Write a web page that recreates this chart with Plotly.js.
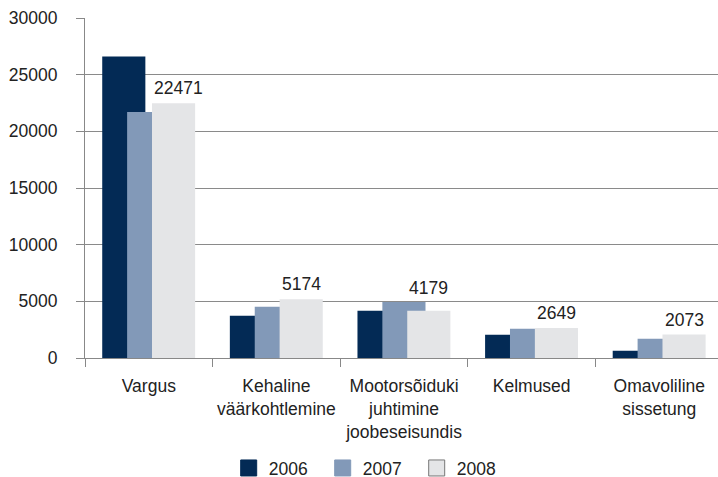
<!DOCTYPE html>
<html>
<head>
<meta charset="utf-8">
<script src="https://cdn.plot.ly/plotly-3.0.1.min.js"></script>
<style>html,body{margin:0;padding:0;background:#fff;overflow:hidden;}#chart{width:718px;height:490px;}</style>
</head>
<body>
<div id="chart"></div>
<script>
const categories = ['Vargus', 'Kehaline<br>väärkohtlemine', 'Mootorsõiduki<br>juhtimine<br>joobeseisundis', 'Kelmused', 'Omavoliline<br>sissetung'];
const years = ['2006', '2007', '2008'];
const v2006 = [26600, 3730, 4170, 2060, 640];
const v2007 = [21700, 4530, 4950, 2590, 1700];
const v2008 = [22471, 5174, 4179, 2649, 2073];
const yTicks = [0, 5000, 10000, 15000, 20000, 25000, 30000];

const colors = ['#032a55', '#8299b8', '#e4e5e7'];
const offsets = [-0.365, -0.17, 0.025];
const barWidth = 0.338;
const series = [v2006, v2007, v2008];
const FONT = 'Liberation Sans, Arial, Helvetica, sans-serif';
const labelShift = [3, 3, 11, 3, 3];
const labelXShift = [5, 0, 0, 0, 0];

const traces = series.map((vals, i) => ({
  type: 'bar', x: categories, y: vals, name: years[i],
  marker: {color: colors[i], line: {width: 0}},
  offset: offsets[i], width: barWidth, showlegend: false, hoverinfo: 'skip'
}));
years.forEach((y, i) => {
  traces.push({
    type: 'scatter', mode: 'markers', x: [null], y: [null], name: y,
    marker: {symbol: 'square', size: 16, color: colors[i], line: {color: i === 2 ? '#777' : colors[i], width: 1}},
    showlegend: true, hoverinfo: 'skip'
  });
});

const annotations = v2008.map((v, i) => ({
  x: i + offsets[2] + barWidth / 2, y: v, xref: 'x', yref: 'y',
  text: String(v), showarrow: false, xanchor: 'center', yanchor: 'bottom',
  yshift: labelShift[i], xshift: labelXShift[i],
  font: {family: FONT, size: 17.5, color: '#222'}
}));

const layout = {
  width: 718, height: 490,
  margin: {l: 85, r: 0, t: 18, b: 132},
  paper_bgcolor: '#fff', plot_bgcolor: '#fff',
  font: {family: FONT, size: 17.5, color: '#222'},
  barmode: 'overlay',
  showlegend: true,
  legend: {orientation: 'h', x: 0.227, xanchor: 'left', yref: 'container', y: 0.008, yanchor: 'bottom',
           font: {family: FONT, size: 17.5, color: '#222'}, entrywidth: 49, tracegroupgap: 0},
  annotations: annotations,
  xaxis: {
    type: 'category', range: [-0.5, 4.46], tickson: 'boundaries', tickangle: 0,
    ticks: 'outside', ticklen: 8, tickcolor: '#888', tickwidth: 1,
    showline: true, linecolor: '#888', linewidth: 1, showgrid: false, zeroline: false,
    tickfont: {family: FONT, size: 17.5, color: '#222'}, ticklabelstandoff: 12,
    fixedrange: true, automargin: false
  },
  yaxis: {
    range: [0, 30000], tickvals: yTicks, ticktext: yTicks.map(String),
    ticks: 'outside', ticklen: 8, tickcolor: '#888', tickwidth: 1,
    showline: true, linecolor: '#888', linewidth: 1,
    showgrid: true, gridcolor: '#8a8a8a', gridwidth: 1, zeroline: false,
    tickfont: {family: FONT, size: 17.5, color: '#222'}, ticklabelstandoff: 15, fixedrange: true, automargin: false
  }
};

Plotly.newPlot('chart', traces, layout, {displayModeBar: false, staticPlot: true});
</script>
</body>
</html>
